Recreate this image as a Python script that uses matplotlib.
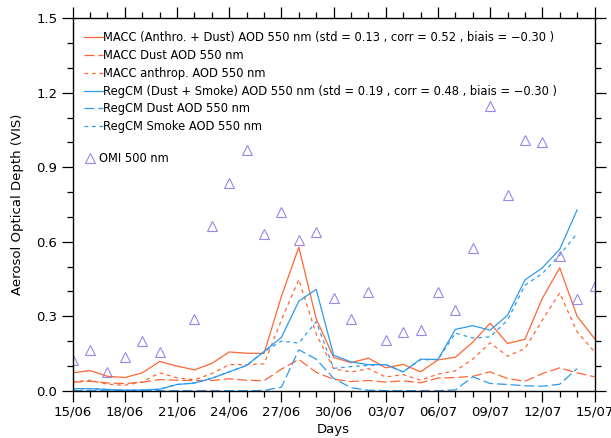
import matplotlib
matplotlib.use("Agg")
import matplotlib.pyplot as plt
import numpy as np
from matplotlib.ticker import MultipleLocator

plt.rcParams['font.family'] = ['DejaVu Sans']

# day index 0 = 15/06 ... 30 = 15/07
day_labels = ['15/06', '18/06', '21/06', '24/06', '27/06', '30/06',
              '03/07', '06/07', '09/07', '12/07', '15/07']
n_days = 31

# MACC (Anthro + Dust), dust and anthropogenic parts
macc_total = [0.072, 0.081, 0.058, 0.053, 0.072, 0.118, 0.099, 0.084, 0.110, 0.156,
              0.151, 0.150, 0.380, 0.578, 0.290, 0.134, 0.113, 0.131, 0.092, 0.106,
              0.076, 0.124, 0.135, 0.195, 0.272, 0.190, 0.207, 0.372, 0.495, 0.300, 0.210]
macc_dust = [0.034, 0.038, 0.031, 0.029, 0.034, 0.045, 0.042, 0.041, 0.041, 0.048,
             0.042, 0.040, 0.087, 0.126, 0.074, 0.046, 0.037, 0.041, 0.035, 0.040,
             0.032, 0.051, 0.053, 0.058, 0.076, 0.049, 0.038, 0.069, 0.092, 0.072, 0.056]
macc_anthro = [0.036, 0.042, 0.026, 0.022, 0.035, 0.072, 0.052, 0.044, 0.069, 0.105,
               0.105, 0.108, 0.285, 0.448, 0.228, 0.089, 0.075, 0.089, 0.055, 0.065,
               0.042, 0.067, 0.080, 0.127, 0.193, 0.139, 0.170, 0.284, 0.394, 0.237, 0.157]

# RegCM (Dust + Smoke), runs up to 14/07
regcm_total = [0.008, 0.008, 0.005, 0.002, 0.003, 0.006, 0.025, 0.031, 0.050, 0.076,
               0.102, 0.158, 0.215, 0.361, 0.408, 0.143, 0.116, 0.105, 0.105, 0.076,
               0.127, 0.126, 0.247, 0.262, 0.244, 0.304, 0.446, 0.495, 0.570, 0.728]
regcm_dust = [0.0, 0.0, 0.0, 0.0, 0.0, 0.0, 0.0, 0.0, 0.0, 0.0,
              0.0, 0.001, 0.014, 0.165, 0.127, 0.050, 0.012, 0.002, 0.0, 0.0,
              0.0, 0.0, 0.003, 0.056, 0.029, 0.025, 0.020, 0.018, 0.026, 0.089]
regcm_smoke = [0.008, 0.008, 0.005, 0.002, 0.003, 0.006, 0.025, 0.031, 0.050, 0.076,
               0.102, 0.157, 0.200, 0.192, 0.278, 0.090, 0.097, 0.102, 0.105, 0.076,
               0.125, 0.125, 0.232, 0.212, 0.217, 0.284, 0.425, 0.472, 0.546, 0.634]

# OMI 500 nm (no value on 21/06)
omi = [0.125, 0.162, 0.075, 0.134, 0.200, 0.154, np.nan, 0.287, 0.662, 0.835,
       0.968, 0.633, 0.720, 0.608, 0.640, 0.372, 0.290, 0.396, 0.206, 0.238,
       0.246, 0.396, 0.327, 0.573, 1.146, 0.788, 1.012, 1.003, 0.544, 0.371, 0.420]

orange = '#FF6633'
blue = '#2E9AEF'
purple = '#9B85EE'
long_dash = (0, (8, 3))
short_dash = (0, (3, 3))
lw = 0.9

days = np.arange(n_days)
rdays = days[:len(regcm_total)]

fig = plt.figure(figsize=(6.11, 4.38), dpi=100)
ax = fig.add_axes([0.119, 0.108, 0.854, 0.850])

h1, = ax.plot(days, macc_total, color=orange, lw=lw,
              label='MACC (Anthro. + Dust) AOD 550 nm (std = 0.13 , corr = 0.52 , biais = \u22120.30 )')
h2, = ax.plot(days, macc_dust, color=orange, lw=lw, ls=long_dash,
              label='MACC Dust AOD 550 nm')
h3, = ax.plot(days, macc_anthro, color=orange, lw=lw, ls=short_dash,
              label='MACC anthrop. AOD 550 nm')
h4, = ax.plot(rdays, regcm_total, color=blue, lw=lw,
              label='RegCM (Dust + Smoke) AOD 550 nm (std = 0.19 , corr = 0.48 , biais = \u22120.30 )')
h5, = ax.plot(rdays, regcm_dust, color=blue, lw=lw, ls=long_dash,
              label='RegCM Dust AOD 550 nm')
h6, = ax.plot(rdays, regcm_smoke, color=blue, lw=lw, ls=short_dash,
              label='RegCM Smoke AOD 550 nm')
h7, = ax.plot(days, omi, ls='none', marker='^', mfc='none', mec=purple,
              ms=6.5, mew=0.8, label='OMI 500 nm')

ax.set_xlim(0, n_days - 1)
ax.set_ylim(0, 1.5)
ax.set_xticks(days[::3])
ax.set_xticklabels(day_labels)
ax.xaxis.set_minor_locator(MultipleLocator(1))
ax.yaxis.set_major_locator(MultipleLocator(0.3))
ax.yaxis.set_minor_locator(MultipleLocator(0.1))
ax.yaxis.set_major_formatter(plt.FormatStrFormatter('%.1f'))
ax.tick_params(which='both', direction='out', top=True, right=True, width=0.9)
ax.tick_params(which='major', length=8, labelsize=9.5, pad=3)
ax.tick_params(which='minor', length=4.5)
for s in ax.spines.values():
    s.set_linewidth(1.0)

ax.set_xlabel('Days', fontsize=9.5, labelpad=3)
ax.set_ylabel('Aerosol Optical Depth (VIS)', fontsize=9.5, labelpad=9)

leg1 = ax.legend(handles=[h1, h2, h3, h4, h5, h6], loc='upper left',
                 bbox_to_anchor=(0.022, 0.966), frameon=False, fontsize=8.3,
                 handlelength=1.65, handletextpad=0.0, labelspacing=0.42,
                 borderpad=0, borderaxespad=0)
ax.add_artist(leg1)
ax.legend(handles=[h7], loc='upper left', bbox_to_anchor=(0.022, 0.64),
          frameon=False, fontsize=8.3, handlelength=1.0, handletextpad=0.3,
          borderpad=0, borderaxespad=0)

fig.savefig('out.png', dpi=100)
